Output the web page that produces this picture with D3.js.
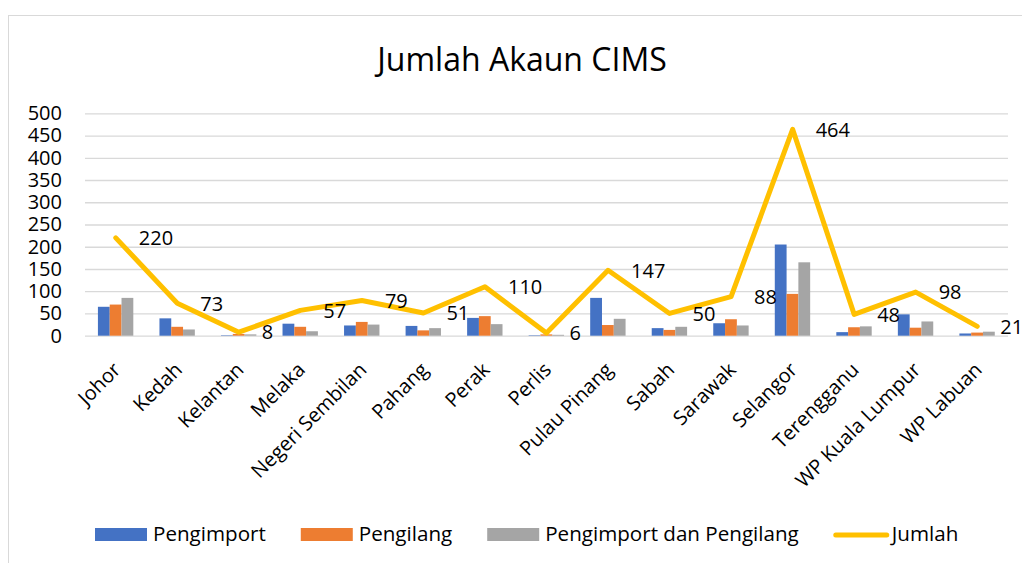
<!DOCTYPE html>
<html>
<head>
<meta charset="utf-8">
<script src="https://cdn.jsdelivr.net/npm/d3@7"></script>
<style>
  body { margin: 0; background: #fff; }
  text { font-family: "Open Sans", sans-serif; fill: #000; }
</style>
</head>
<body>
<div id="chart"></div>
<script>
var states = ["Johor", "Kedah", "Kelantan", "Melaka", "Negeri Sembilan", "Pahang", "Perak", "Perlis",
  "Pulau Pinang", "Sabah", "Sarawak", "Selangor", "Terengganu", "WP Kuala Lumpur", "WP Labuan"];
var pengimport = [65, 39, 1, 27, 23, 22, 40, 1, 85, 17, 28, 205, 8, 48, 5];
var pengilang = [70, 20, 4, 20, 31, 12, 44, 3, 24, 13, 37, 94, 19, 18, 7];
var keduanya = [85, 14, 3, 10, 25, 17, 26, 2, 38, 20, 23, 165, 21, 32, 9];
var jumlah = [220, 73, 8, 57, 79, 51, 110, 6, 147, 50, 88, 464, 48, 98, 21];
var seriesNames = ["Pengimport", "Pengilang", "Pengimport dan Pengilang", "Jumlah"];
var colors = ["#4472C4", "#ED7D31", "#A5A5A5", "#FFC000"];
var yTicks = [0, 50, 100, 150, 200, 250, 300, 350, 400, 450, 500];

var W = 1022, H = 563;
var plotLeft = 85, plotRight = 1008, plotTop = 113.3, plotBottom = 335.7;

var svg = d3.select("#chart").append("svg")
  .attr("width", W)
  .attr("height", H);

// chart border
svg.append("rect")
  .attr("x", 8.5).attr("y", 15.5)
  .attr("width", 1100).attr("height", 700)
  .attr("fill", "none")
  .attr("stroke", "#D9D9D9");

svg.append("text")
  .attr("x", 522)
  .attr("y", 71)
  .attr("text-anchor", "middle")
  .style("font-size", "32px")
  .text("Jumlah Akaun CIMS");

var x0 = d3.scaleBand().domain(states).range([plotLeft, plotRight]);
var bw = x0.bandwidth();
var x1 = d3.scaleBand().domain([0, 1, 2]).range([bw * 0.21, bw * 0.785]);
var y = d3.scaleLinear().domain([0, 500]).range([plotBottom, plotTop]);

// gridlines
svg.append("g")
  .attr("transform", "translate(" + plotLeft + ",0)")
  .call(d3.axisLeft(y).tickValues(yTicks).tickSize(-(plotRight - plotLeft)).tickFormat(""))
  .call(function (g) {
    g.select(".domain").remove();
    g.selectAll("line").attr("stroke", "#D9D9D9").attr("stroke-width", 1.3);
  });

// y labels
svg.append("g")
  .attr("transform", "translate(" + plotLeft + ",0)")
  .call(d3.axisLeft(y).tickValues(yTicks).tickSize(0).tickPadding(23))
  .call(function (g) {
    g.select(".domain").remove();
    g.attr("font-family", null).attr("font-size", null);
    g.selectAll("text").style("font-size", "20px").attr("fill", "#000");
  });

// x labels
svg.append("g").selectAll("text")
  .data(states)
  .join("text")
  .attr("transform", function (d) {
    return "translate(" + (x0(d) + bw / 2 + 6) + ",371) rotate(-45)";
  })
  .attr("text-anchor", "end")
  .style("font-size", "20px")
  .text(function (d) { return d; });

// bars
var barSeries = [pengimport, pengilang, keduanya];
var groups = svg.append("g").selectAll("g")
  .data(states)
  .join("g")
  .attr("transform", function (d) { return "translate(" + x0(d) + ",0)"; });

groups.selectAll("rect")
  .data(function (d, i) { return barSeries.map(function (s, k) { return {k: k, v: s[i]}; }); })
  .join("rect")
  .attr("x", function (d) { return x1(d.k); })
  .attr("width", x1.bandwidth())
  .attr("y", function (d) { return y(d.v); })
  .attr("height", function (d) { return y(0) - y(d.v); })
  .attr("fill", function (d) { return colors[d.k]; });

// total line
var line = d3.line()
  .x(function (d, i) { return x0(states[i]) + bw / 2; })
  .y(function (d) { return y(d); });

svg.append("path")
  .datum(jumlah)
  .attr("d", line)
  .attr("fill", "none")
  .attr("stroke", colors[3])
  .attr("stroke-width", 5)
  .attr("stroke-linejoin", "round")
  .attr("stroke-linecap", "round");

svg.append("g").selectAll("text")
  .data(jumlah)
  .join("text")
  .attr("x", function (d, i) { return x0(states[i]) + bw / 2 + 23; })
  .attr("y", function (d) { return y(d) + 2; })
  .attr("dominant-baseline", "middle")
  .style("font-size", "20px")
  .text(function (d) { return d; });

// legend
var lx = 95, ly = 535;
var legend = svg.append("g");
seriesNames.forEach(function (name, k) {
  if (k < 3) {
    legend.append("rect")
      .attr("x", lx).attr("y", ly - 7)
      .attr("width", 52).attr("height", 13)
      .attr("fill", colors[k]);
  } else {
    legend.append("line")
      .attr("x1", lx + 2).attr("x2", lx + 53)
      .attr("y1", ly).attr("y2", ly)
      .attr("stroke", colors[k])
      .attr("stroke-width", 5)
      .attr("stroke-linecap", "round");
  }
  var t = legend.append("text")
    .attr("x", lx + 58)
    .attr("y", ly)
    .attr("dominant-baseline", "middle")
    .style("font-size", "20.6px")
    .text(name);
  lx += 58 + t.node().getComputedTextLength() + 35;
});
</script>
</body>
</html>
